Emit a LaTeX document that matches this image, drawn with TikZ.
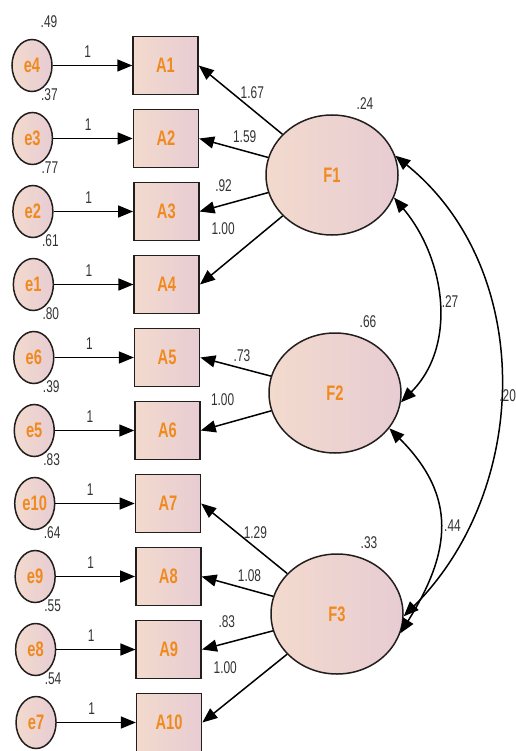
\documentclass[tikz,border=0pt]{standalone}
\usepackage{fontspec}
\setmainfont{Liberation Sans}[FakeStretch=0.7]
\usetikzlibrary{arrows.meta,shapes.geometric}
\definecolor{amosorange}{RGB}{240,138,30}
\definecolor{fillL}{RGB}{243,218,205}
\definecolor{fillR}{RGB}{231,204,211}
\definecolor{rim}{RGB}{35,30,30}

\begin{document}
\begin{tikzpicture}[x=1pt,y=1pt,line width=1.5pt,
 shaded/.style={draw=rim,line width=1.5pt,left color=fillL,right color=fillR,text=amosorange,font=\fontsize{21}{21}\selectfont\bfseries},
 obs/.style={shaded,rectangle,minimum width=65pt,minimum height=58pt},
 err/.style={shaded,ellipse,inner sep=0pt,minimum width=40pt,minimum height=52pt},
 lat/.style={shaded,ellipse,minimum width=132pt,minimum height=120pt},
 num/.style={font=\fontsize{17}{17}\selectfont,text=black!80,inner sep=1pt},
 reg/.style={-{Triangle[length=15pt,width=12pt]}},
 cov/.style={{Triangle[length=15pt,width=12pt]}-{Triangle[length=15pt,width=12pt]}}]
\useasboundingbox (0,0) rectangle (515,-751);

% indicators and their errors
\foreach \n/\e/\v [count=\i from 0] in {1/4/.49,2/3/.37,3/2/.77,4/1/.61,5/6/.80,6/5/.39,7/10/.83,8/9/.64,9/8/.55,10/7/.54}{
  \node[obs] (A\n) at (165.5+0.4*\i,-65.5-73*\i) {A\n};
  \node[err,label={[num,xshift=17pt,yshift=9pt]above:\v}] (e\e) at (32+0.45*\i,-65.5-73*\i) {e\e};
  \draw[reg] (e\e) -- node[num,pos=.44,above=6pt] {1} (A\n);
}

% factors
\node[lat,label={[num,xshift=33pt,yshift=3pt]above:.24}] (F1) at (332,-175) {F1};
\node[lat,label={[num,xshift=33pt,yshift=3pt]above:.66}] (F2) at (335,-393) {F2};
\node[lat,label={[num,xshift=32pt,yshift=3pt]above:.33}] (F3) at (337,-614) {F3};

\draw[reg] (F1) -- node[num,pos=.36,above=9pt] {1.67} (A1.east);
\draw[reg] (F1) -- node[num,pos=.34,above=7pt] {1.59} (A2.east);
\draw[reg] (F1) -- node[num,pos=.65,above=11pt] {.92} (A3.east);
\draw[reg] (F1) -- node[num,pos=.72,above=29pt] {1.00} (A4.east);
\draw[reg] (F2) -- node[num,pos=.41,above=5pt] {.73} (A5.east);
\draw[reg] (F2) -- node[num,pos=.69,above=17pt] {1.00} (A6.east);
\draw[reg] (F3) -- node[num,pos=.37,above=7.5pt] {1.29} (A7.east);
\draw[reg] (F3) -- node[num,pos=.33,above=6pt] {1.08} (A8.east);
\draw[reg] (F3) -- node[num,pos=.65,above=13.5pt] {.83} (A9.east);
\draw[reg] (F3) -- node[num,pos=.73,above=29pt] {1.00} (A10.east);

% covariances
\draw[cov] (F1.-20) to[out=-50,in=45] node[num,right=2pt] {.27} (F2.-8);
\draw[cov] (F2.-33) to[out=-45,in=58,looseness=1.2] node[num,right=3pt] {.44} (F3.-17);
\draw[cov] (F1.17) to[out=-39,in=45] node[num,pos=.53,right=-1.5pt,inner sep=.5pt] {.20} (F3.-2);
\end{tikzpicture}
\end{document}
